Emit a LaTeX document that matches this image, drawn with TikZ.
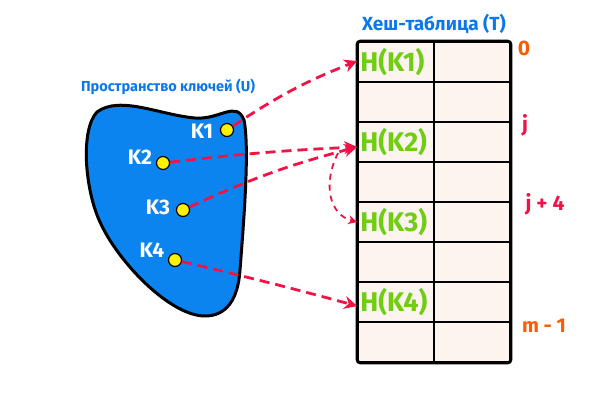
\documentclass[tikz,border=0pt]{standalone}
\usepackage{fontspec}
\setmainfont{Fira Sans}
\usetikzlibrary{arrows.meta}
\definecolor{ClefBleu}{RGB}{12, 132, 240}
\definecolor{TitreBleu}{RGB}{10, 120, 235}
\definecolor{HVert}{RGB}{112, 205, 20}
\definecolor{FlecheRouge}{RGB}{240, 20, 70}
\definecolor{IdxOrange}{RGB}{255, 90, 0}
\definecolor{CaseFond}{RGB}{253, 243, 239}
\tikzset{
  cell/.style={draw=black, line width=1.6pt, fill=CaseFond, minimum width=76pt, minimum height=40pt, inner sep=0pt},
  dot/.style={circle, draw=black, line width=1.2pt, fill=yellow, minimum size=13pt, inner sep=0pt},
  klabel/.style={color=white, font=\fontsize{21}{24}\selectfont\bfseries},
  hlabel/.style={color=HVert, font=\fontsize{27}{30}\selectfont\bfseries, anchor=west, inner sep=1pt},
  fleche/.style={draw=FlecheRouge, line width=2.8pt, dash pattern=on 10pt off 6pt, -{Stealth[length=13pt,width=13pt]}},
}
\begin{document}
\begin{tikzpicture}[x=1pt, y=-1pt]
			\useasboundingbox (0,0) rectangle (600,400);
			% ensemble des cles
			\draw[line width=3pt, fill=ClefBleu] (97,112) .. controls (120,95) and (160,115) .. (195,118)
				.. controls (220,120) and (236,100) .. (244,120) .. controls (250,150) and (243,230) .. (240,270)
				.. controls (238,300) and (226,316) .. (205,316) .. controls (170,316) and (118,262) .. (100,222)
				.. controls (85,190) and (80,130) .. (97,112) -- cycle;
			\node (titreU) at (168,87) [color=TitreBleu, font=\fontsize{14.5}{17}\selectfont\bfseries] {Пространство ключей (U)};
			\node[dot] (k1) at (227,130) {};
			\node[dot] (k2) at (163,163) {};
			\node[dot] (k3) at (183,210) {};
			\node[dot] (k4) at (175,260) {};
			\node[klabel] (nk1) at (202,131) {K1};
			\node[klabel] (nk2) at (140,157) {K2};
			\node[klabel] (nk3) at (158,207) {K3};
			\node[klabel] (nk4) at (152,250) {K4};
			% table
			\foreach \r in {0,...,7} {
				\node[cell] (a\r) at (396,{62+40*\r}) {};
				\node[cell] (b\r) at (472,{62+40*\r}) {};
			}
			\draw[line width=3pt, rounded corners=3pt] (a0.north west) rectangle (b7.south east);
			\node (titreT) at (434,24) [color=TitreBleu, font=\fontsize{19}{22}\selectfont\bfseries] {Хеш-таблица (T)};
			\node[hlabel] (h1) at ([xshift=2pt]a0.west) {H(K1)};
			\node[hlabel] (h2) at ([xshift=2pt]a2.west) {H(K2)};
			\node[hlabel] (h3) at ([xshift=2pt]a4.west) {H(K3)};
			\node[hlabel] (h4) at ([xshift=2pt]a6.west) {H(K4)};
			% indices
			\node (i0) at (524,48) [color=IdxOrange, font=\fontsize{21}{24}\selectfont\bfseries] {0};
			\node (ij) at (525,125) [color=FlecheRouge, font=\fontsize{21}{24}\selectfont\bfseries] {j};
			\node (ij4) at (545,204) [color=FlecheRouge, font=\fontsize{21}{24}\selectfont\bfseries] {j + 4};
			\node (im) at (544,326) [color=IdxOrange, font=\fontsize{20}{23}\selectfont\bfseries] {m - 1};
			% fleches
			\coordinate (c2) at ([yshift=-5pt]a2.west);
			\coordinate (c4) at ([yshift=-4pt]a6.west);
			\coordinate (dep) at (338,153);
			\draw[fleche] (k1) to[bend left=6] ([yshift=1pt]a0.west);
			\draw[fleche] (k2) to[bend left=2] (c2);
			\draw[fleche] (k3) to[bend left=5] (c2);
			\draw[fleche] (k4) to[bend left=1] (c4);
			\draw[fleche, line width=1.8pt, dash pattern=on 6pt off 5pt, -{Stealth[length=9pt,width=9pt]}] (dep) .. controls (322,185) and (330,215) .. (a4.west);
		\end{tikzpicture}
\end{document}
